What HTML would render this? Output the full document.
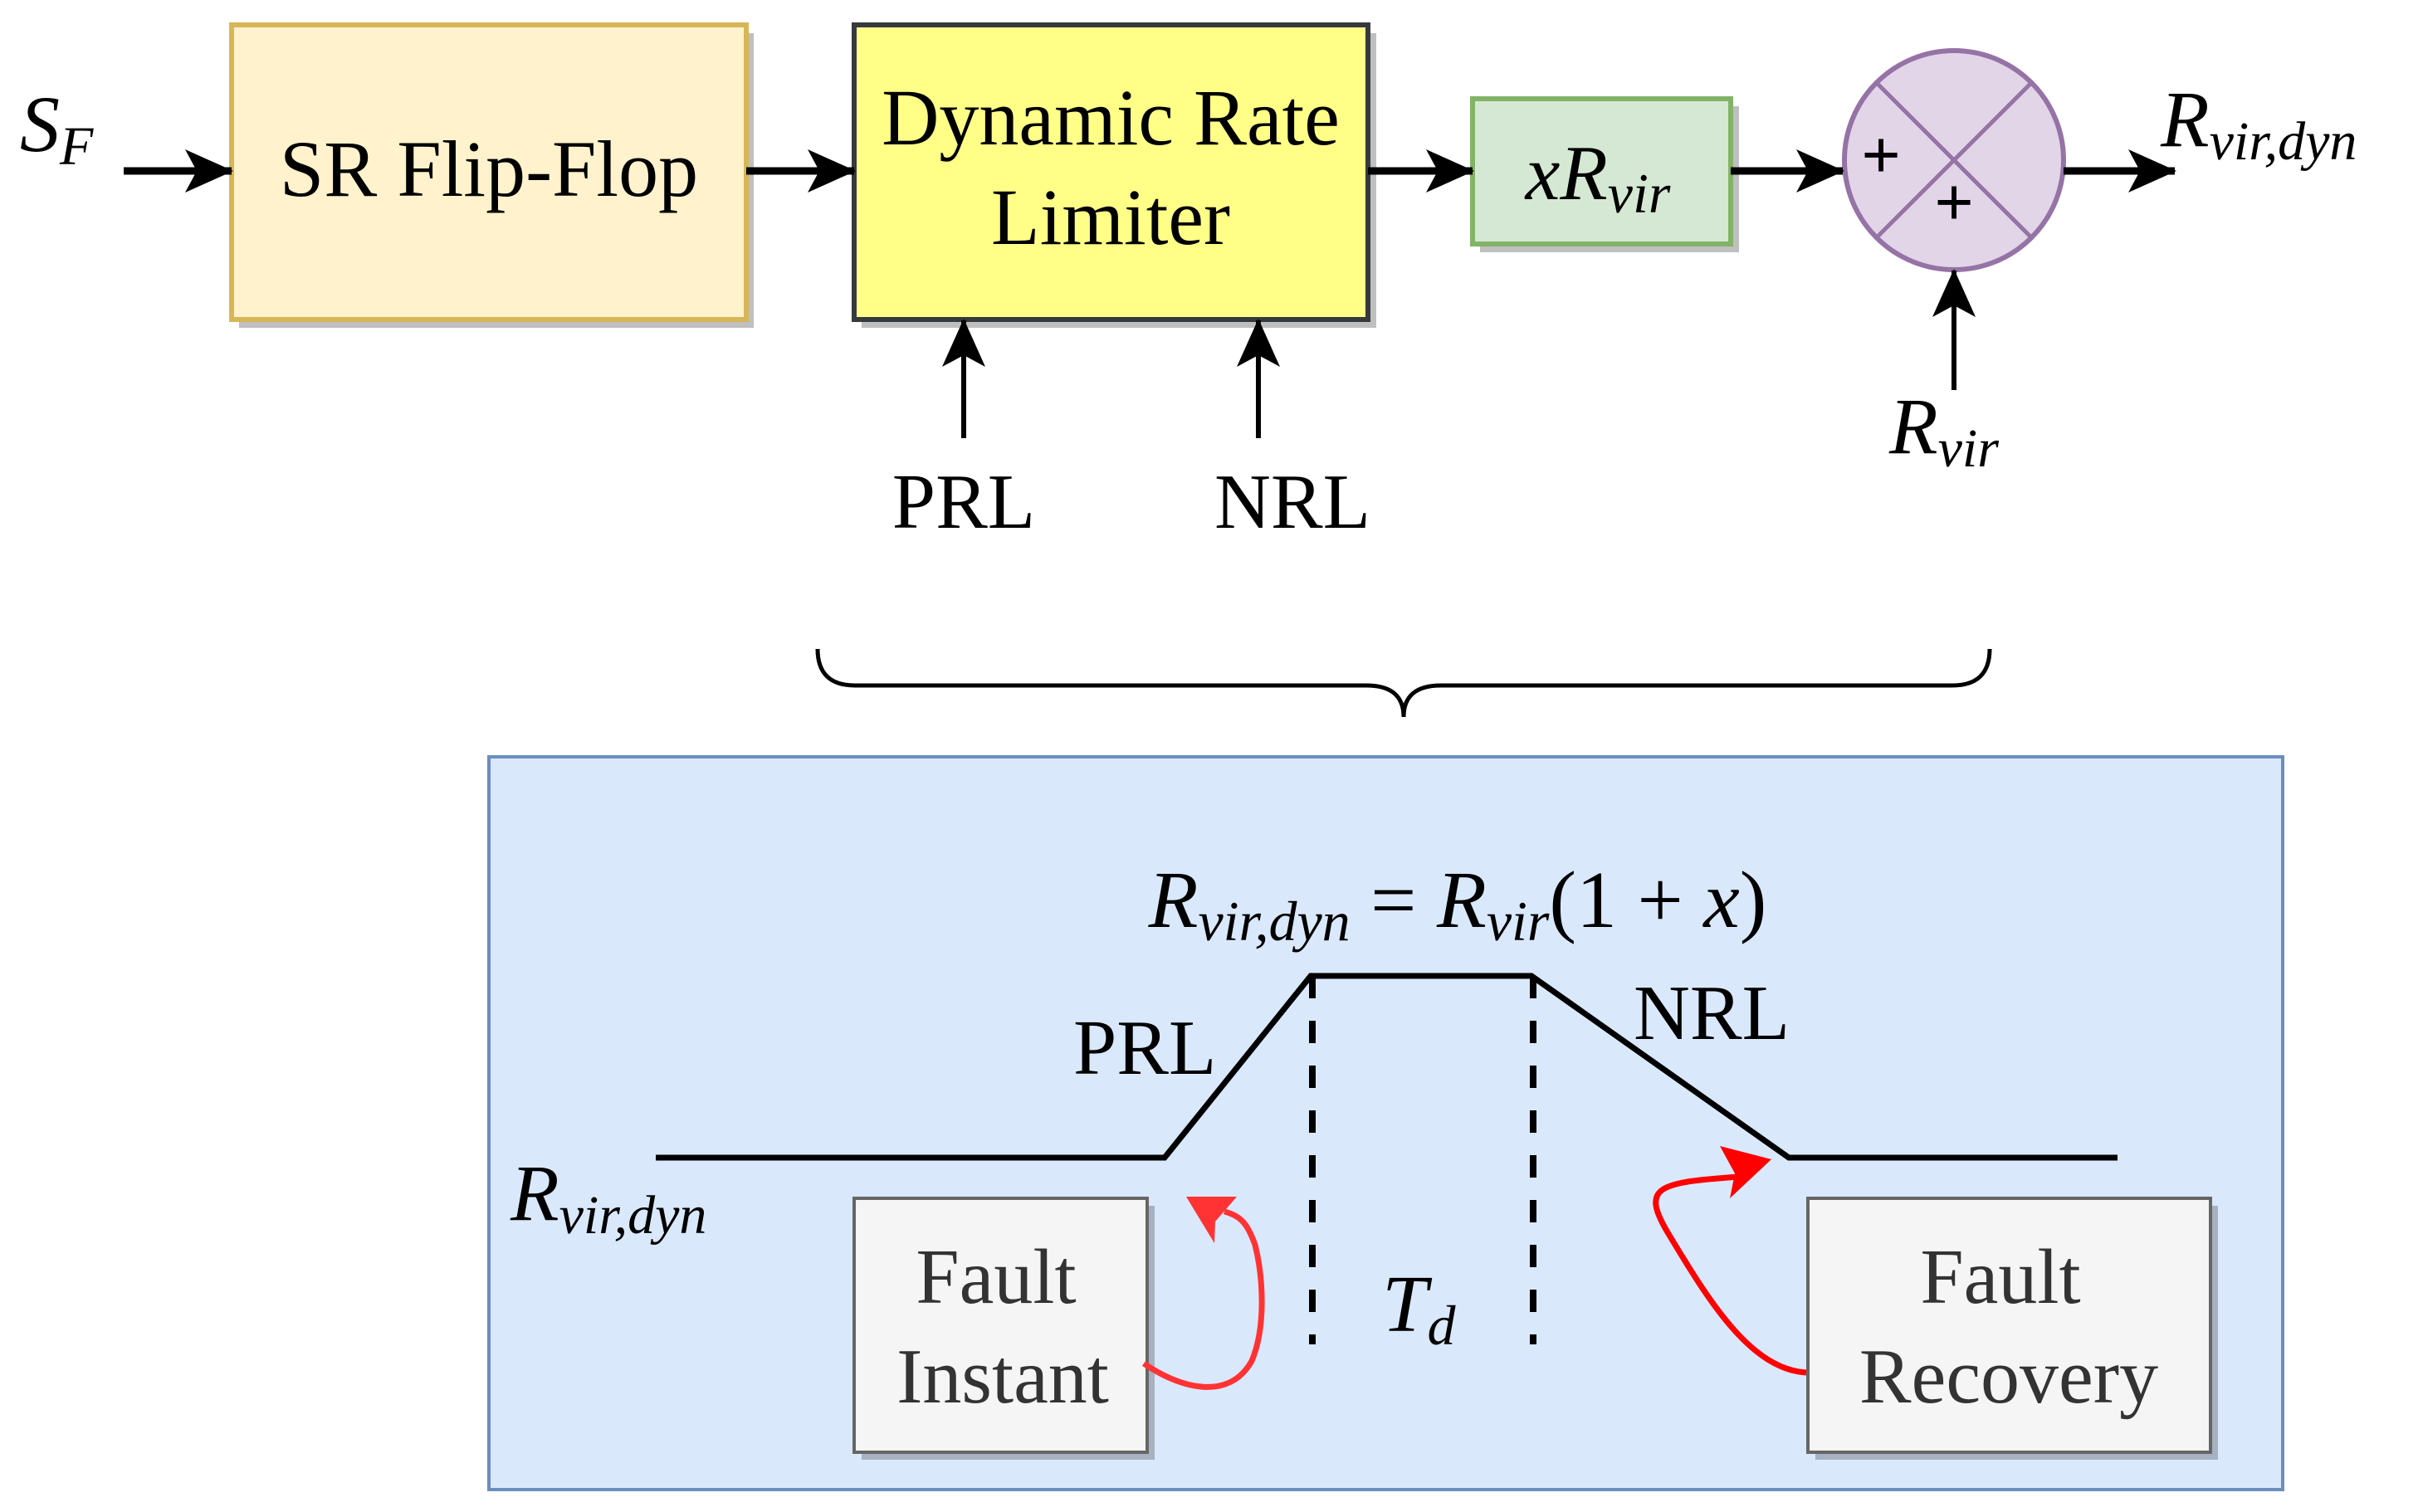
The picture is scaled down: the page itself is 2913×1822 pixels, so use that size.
<!DOCTYPE html>
<html><head><meta charset="utf-8"><style>
html,body{margin:0;padding:0;background:#fff;}
svg{display:block}
text{font-family:"Liberation Serif",serif;}
.it{font-style:italic}
</style></head><body>
<svg width="2913" height="1822" viewBox="0 0 2913 1822" xmlns="http://www.w3.org/2000/svg">
<defs>
<marker id="ah" markerWidth="60" markerHeight="60" refX="56" refY="30" orient="auto" markerUnits="userSpaceOnUse" viewBox="0 0 60 60"><path d="M0,4 L58,30 L0,56 L14,30 Z" fill="#000"/></marker>
</defs>
<rect x="288" y="40" width="620" height="355" fill="#bfbfbf"/>
<rect x="1038" y="40" width="620" height="355" fill="#bfbfbf"/>
<rect x="1783" y="128" width="312" height="176" fill="#bfbfbf"/>
<rect x="279" y="30" width="620" height="355" fill="#fff2cc" stroke="#d6b656" stroke-width="6"/>
<text x="589" y="236" font-size="96" text-anchor="middle">SR Flip-Flop</text>
<rect x="1029" y="30" width="619" height="355" fill="#ffff88" stroke="#36393d" stroke-width="6"/>
<text x="1338" y="174" font-size="96" text-anchor="middle">Dynamic Rate</text>
<text x="1338" y="294" font-size="96" text-anchor="middle">Limiter</text>
<rect x="1774" y="119" width="311" height="175" fill="#d5e8d4" stroke="#82b366" stroke-width="6"/>
<text x="1925" y="240" font-size="94" text-anchor="middle" class="it">xR<tspan font-size="68" dy="16">vir</tspan></text>
<circle cx="2354" cy="193" r="132" fill="#e1d5e7" stroke="#9673a6" stroke-width="6"/>
<line x1="2261" y1="100" x2="2447" y2="286" stroke="#9673a6" stroke-width="5"/>
<line x1="2447" y1="100" x2="2261" y2="286" stroke="#9673a6" stroke-width="5"/>
<text x="2266" y="215" font-size="84" font-family="Liberation Sans" font-weight="bold" text-anchor="middle">+</text>
<text x="2354" y="272" font-size="84" font-family="Liberation Sans" font-weight="bold" text-anchor="middle">+</text>
<g stroke="#000" stroke-width="9" fill="none">
<line x1="149" y1="206" x2="279" y2="206" marker-end="url(#ah)"/>
<line x1="899" y1="206" x2="1029" y2="206" marker-end="url(#ah)"/>
<line x1="1648" y1="206" x2="1774" y2="206" marker-end="url(#ah)"/>
<line x1="2085" y1="206" x2="2220" y2="206" marker-end="url(#ah)"/>
<line x1="2486" y1="206" x2="2620" y2="206" marker-end="url(#ah)"/>
</g>
<g stroke="#000" stroke-width="6" fill="none">
<line x1="1161" y1="528" x2="1161" y2="386" marker-end="url(#ah)"/>
<line x1="1516" y1="528" x2="1516" y2="386" marker-end="url(#ah)"/>
<line x1="2354" y1="470" x2="2354" y2="326" marker-end="url(#ah)"/>
</g>
<text x="24" y="182" font-size="96" class="it">S<tspan font-size="66" dy="16">F</tspan></text>
<text x="2603" y="176" font-size="96" class="it">R<tspan font-size="66" dy="16">vir,dyn</tspan></text>
<text x="1161" y="636" font-size="94" text-anchor="middle">PRL</text>
<text x="1557" y="636" font-size="94" text-anchor="middle">NRL</text>
<text x="2276" y="546" font-size="96" class="it">R<tspan font-size="66" dy="16">vir</tspan></text>
<path d="M985,782 Q985,826 1030,826 L1646,826 Q1691,826 1691,864 Q1691,826 1736,826 L2352,826 Q2397,826 2397,782" fill="none" stroke="#000" stroke-width="5"/>
<rect x="589" y="912" width="2161" height="883" fill="#dae8fc" stroke="#6c8ebf" stroke-width="4"/>
<text x="1756" y="1117" font-size="98" text-anchor="middle"><tspan class="it">R</tspan><tspan class="it" font-size="68" dy="16">vir,dyn</tspan><tspan dy="-16"> = </tspan><tspan class="it">R</tspan><tspan class="it" font-size="68" dy="16">vir</tspan><tspan dy="-16">(1 + </tspan><tspan class="it">x</tspan>)</text>
<polyline points="790,1395 1403,1395 1579,1176 1845,1176 2155,1395 2551,1395" fill="none" stroke="#000" stroke-width="7"/>
<line x1="1581" y1="1176" x2="1581" y2="1620" stroke="#000" stroke-width="8" stroke-dasharray="27,27"/>
<line x1="1847" y1="1176" x2="1847" y2="1620" stroke="#000" stroke-width="8" stroke-dasharray="27,27"/>
<text x="1293" y="1294" font-size="94">PRL</text>
<text x="1968" y="1252" font-size="94">NRL</text>
<text x="615" y="1470" font-size="96" class="it">R<tspan font-size="66" dy="16">vir,dyn</tspan></text>
<text x="1665" y="1604" font-size="98" class="it">T<tspan font-size="68" dy="16">d</tspan></text>
<rect x="1038" y="1453" width="353" height="306" fill="#a7b1c0"/>
<rect x="1029" y="1444" width="353" height="306" fill="#f5f5f5" stroke="#666" stroke-width="4"/>
<text x="1200" y="1570" font-size="94" text-anchor="middle" fill="#333">Fault</text>
<text x="1208" y="1690" font-size="94" text-anchor="middle" fill="#333">Instant</text>
<rect x="2187" y="1453" width="485" height="306" fill="#a7b1c0"/>
<rect x="2178" y="1444" width="485" height="306" fill="#f5f5f5" stroke="#666" stroke-width="4"/>
<text x="2410" y="1570" font-size="94" text-anchor="middle" fill="#333">Fault</text>
<text x="2420" y="1690" font-size="94" text-anchor="middle" fill="#333">Recovery</text>
<path d="M1378,1643 C1420,1672 1480,1690 1508,1640 C1525,1600 1522,1540 1512,1500 C1503,1475 1495,1465 1475,1460" fill="none" stroke="#ff3333" stroke-width="7"/>
<path d="M1429,1442 L1490,1442 L1464,1472 L1463,1498 Z" fill="#ff3333"/>
<path d="M2176,1654 C2110,1650 2060,1570 2012,1490 C1975,1430 1995,1425 2095,1418" fill="none" stroke="#ff0000" stroke-width="7"/>
<path d="M2134,1397 L2072,1381 L2090,1414 L2084,1444 Z" fill="#ff0000"/>
</svg>
</body></html>
